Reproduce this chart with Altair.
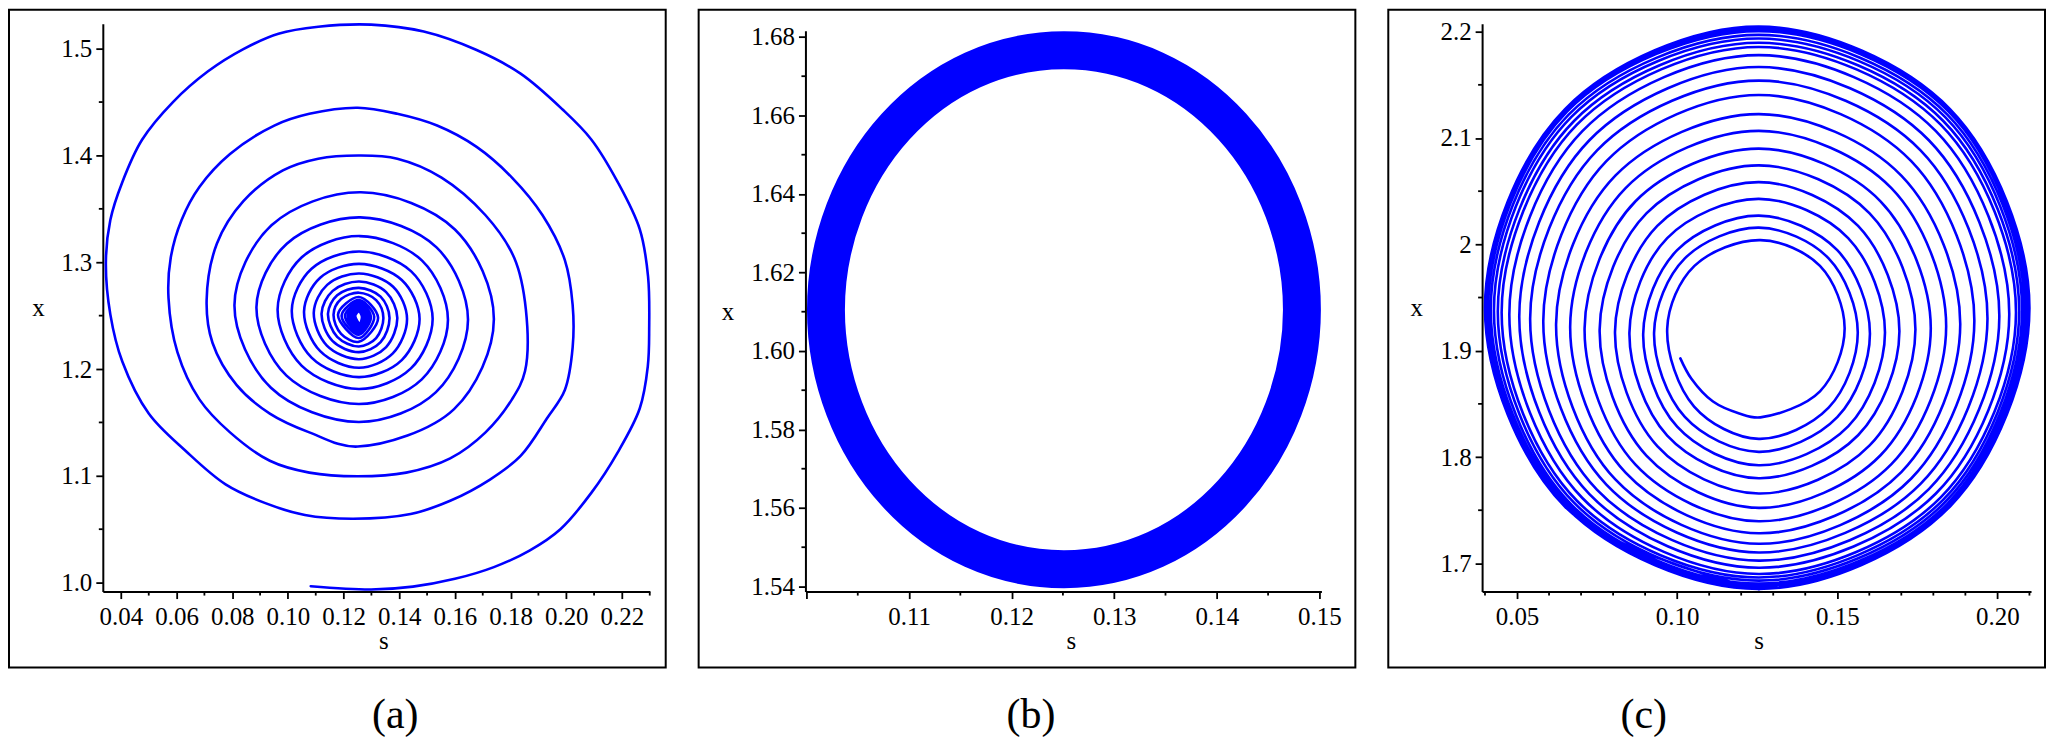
import altair as alt
import pandas as pd

FONT = "Liberation Serif"
BLUE = "#0000ff"

# ---------------- panel (a): trajectory spiralling into the focus (s, x) ----------------
a_pts = [
    (0.1082, 0.9966), (0.1299, 0.9935), (0.1449, 0.9962), (0.1600, 1.0035), (0.1740, 1.0145),
    (0.1868, 1.0300), (0.1979, 1.0500), (0.2090, 1.0840), (0.2185, 1.1220), (0.2264, 1.1630),
    (0.2293, 1.2025), (0.2298, 1.2380), (0.2294, 1.2865), (0.2264, 1.3310), (0.2185, 1.3750),
    (0.2090, 1.4150), (0.1987, 1.4430), (0.1836, 1.4766), (0.1678, 1.4987), (0.1488, 1.5160),
    (0.1299, 1.5225), (0.1109, 1.5205), (0.0966, 1.5140), (0.0840, 1.4996), (0.0713, 1.4788),
    (0.0587, 1.4500), (0.0476, 1.4147), (0.0405, 1.3750), (0.0362, 1.3396), (0.0346, 1.2998),
    (0.0362, 1.2512), (0.0405, 1.2070), (0.0500, 1.1583), (0.0634, 1.1230), (0.0776, 1.0920),
    (0.0919, 1.0744), (0.1061, 1.0633), (0.1235, 1.0598), (0.1441, 1.0642), (0.1583, 1.0766),
    (0.1726, 1.0965), (0.1836, 1.1186), (0.1931, 1.1539), (0.1995, 1.1804), (0.2023, 1.2202),
    (0.2023, 1.2600), (0.1995, 1.3020), (0.1915, 1.3440), (0.1805, 1.3793), (0.1678, 1.4080),
    (0.1536, 1.4280), (0.1393, 1.4390), (0.1251, 1.4447), (0.1077, 1.4390), (0.0951, 1.4280),
    (0.0792, 1.4014), (0.0682, 1.3705), (0.0618, 1.3396), (0.0579, 1.3042), (0.0571, 1.2666),
    (0.0603, 1.2158), (0.0682, 1.1716), (0.0792, 1.1407), (0.0935, 1.1141), (0.1077, 1.1030),
    (0.1251, 1.0996), (0.1425, 1.1030), (0.1583, 1.1163), (0.1710, 1.1407), (0.1805, 1.1716),
    (0.1852, 1.1981), (0.1855, 1.2556), (0.1813, 1.3042), (0.1710, 1.3440), (0.1552, 1.3793),
    (0.1393, 1.3970), (0.1259, 1.4000), (0.1109, 1.3970), (0.0982, 1.3860), (0.0840, 1.3572),
    (0.0745, 1.3175), (0.0708, 1.2644), (0.0729, 1.2246), (0.0816, 1.1849), (0.0935, 1.1583),
    (0.1077, 1.1407), (0.1251, 1.1274),
    (0.1597, 1.1624), (0.1740, 1.2467), (0.1600, 1.3307), (0.1262, 1.3655), (0.0941, 1.3346), (0.0808, 1.2600), (0.0939, 1.1825), (0.1255, 1.1504),
    (0.1532, 1.1784), (0.1647, 1.2460), (0.1534, 1.3139), (0.1260, 1.3420), (0.0996, 1.3174), (0.0887, 1.2580), (0.0995, 1.1938), (0.1255, 1.1672),
    (0.1481, 1.1903), (0.1575, 1.2460), (0.1482, 1.3015), (0.1258, 1.3245), (0.1049, 1.3044), (0.0963, 1.2560), (0.1049, 1.2032), (0.1255, 1.1813),
    (0.1442, 1.2006), (0.1520, 1.2470), (0.1443, 1.2915), (0.1257, 1.3100), (0.1085, 1.2939), (0.1014, 1.2550), (0.1085, 1.2107), (0.1255, 1.1924),
    (0.1409, 1.2084), (0.1473, 1.2470), (0.1409, 1.2834), (0.1256, 1.2985), (0.1116, 1.2855), (0.1058, 1.2540), (0.1116, 1.2167), (0.1255, 1.2012),
    (0.1377, 1.2146), (0.1428, 1.2470), (0.1378, 1.2770), (0.1256, 1.2895), (0.1141, 1.2788), (0.1093, 1.2530), (0.1140, 1.2220), (0.1255, 1.2092),
    (0.1353, 1.2206), (0.1393, 1.2480), (0.1353, 1.2720), (0.1256, 1.2820), (0.1161, 1.2732), (0.1121, 1.2520), (0.1160, 1.2264), (0.1255, 1.2158),
    (0.1333, 1.2252), (0.1365, 1.2480), (0.1333, 1.2678), (0.1255, 1.2760), (0.1177, 1.2690), (0.1144, 1.2520), (0.1177, 1.2302), (0.1255, 1.2211),
    (0.1317, 1.2290), (0.1343, 1.2480), (0.1317, 1.2646), (0.1255, 1.2715), (0.1191, 1.2655), (0.1164, 1.2510), (0.1191, 1.2330), (0.1255, 1.2255),
    (0.1324, 1.2480), (0.1255, 1.2675), (0.1180, 1.2510), (0.1255, 1.2290),
    (0.1310, 1.2490), (0.1255, 1.2645), (0.1193, 1.2500), (0.1255, 1.2321),
    (0.1298, 1.2490), (0.1255, 1.2620), (0.1205, 1.2500), (0.1255, 1.2345),
    (0.1289, 1.2490), (0.1255, 1.2600), (0.1215, 1.2500), (0.1255, 1.2365),
    (0.1281, 1.2490), (0.1255, 1.2585), (0.1224, 1.2500), (0.1255, 1.2380),
    (0.1275, 1.2490), (0.1255, 1.2570), (0.1231, 1.2500), (0.1255, 1.2395),
    (0.1270, 1.2490), (0.1255, 1.2555), (0.1237, 1.2500), (0.1255, 1.2410),
    (0.1266, 1.2490), (0.1255, 1.2540), (0.1242, 1.2500), (0.1255, 1.2425),
]
a_s_ticks = [0.04, 0.06, 0.08, 0.10, 0.12, 0.14, 0.16, 0.18, 0.20, 0.22]
a_s_minor = [0.05, 0.07, 0.09, 0.11, 0.13, 0.15, 0.17, 0.19, 0.21, 0.23]
a_x_ticks = [1.0, 1.1, 1.2, 1.3, 1.4, 1.5]
a_x_minor = [1.05, 1.15, 1.25, 1.35, 1.45]

# ---------------- panel (b): limit-cycle band (centre line of the band) ----------------
b_pts = [(0.1483, 1.6105), (0.1465, 1.6358), (0.1415, 1.6572), (0.1340, 1.6716),
         (0.1251, 1.6766), (0.1162, 1.6716), (0.1087, 1.6572), (0.1037, 1.6358),
         (0.1019, 1.6105), (0.1037, 1.5852), (0.1087, 1.5638), (0.1162, 1.5494),
         (0.1251, 1.5444), (0.1340, 1.5494), (0.1415, 1.5638), (0.1465, 1.5852)]
b_s_ticks = [0.10, 0.11, 0.12, 0.13, 0.14, 0.15]
b_s_minor = [0.105, 0.115, 0.125, 0.135, 0.145]
b_x_ticks = [1.54, 1.56, 1.58, 1.60, 1.62, 1.64, 1.66, 1.68]
b_x_minor = [1.55, 1.57, 1.59, 1.61, 1.63, 1.65, 1.67]

# ---------------- panel (c): trajectory spiralling out onto the limit cycle ----------------
c_pts = [
    (0.1010, 1.8928), (0.1044, 1.8739), (0.1112, 1.8522), (0.1194, 1.8410),
    (0.1260, 1.8373), (0.1446, 1.8618), (0.1523, 1.9210), (0.1446, 1.9797), (0.1260, 2.0040), (0.1054, 1.9797), (0.0969, 1.9210), (0.1053, 1.8475),
    (0.1255, 1.8171), (0.1473, 1.8464), (0.1564, 1.9170), (0.1473, 1.9868), (0.1255, 2.0157), (0.1024, 1.9868), (0.0928, 1.9170), (0.1024, 1.8377),
    (0.1255, 1.8049), (0.1500, 1.8375), (0.1602, 1.9160), (0.1500, 1.9945), (0.1255, 2.0270), (0.1000, 1.9945), (0.0894, 1.9160), (0.1000, 1.8285),
    (0.1255, 1.7923), (0.1534, 1.8288), (0.1649, 1.9170), (0.1534, 2.0059), (0.1255, 2.0428), (0.0969, 2.0059), (0.0851, 1.9170), (0.0969, 1.8202),
    (0.1255, 1.7801), (0.1565, 1.8205), (0.1694, 1.9180), (0.1565, 2.0173), (0.1255, 2.0585), (0.0938, 2.0173), (0.0806, 1.9180), (0.0938, 1.8103),
    (0.1255, 1.7657), (0.1601, 1.8109), (0.1744, 1.9200), (0.1601, 2.0291), (0.1255, 2.0743), (0.0904, 2.0291), (0.0758, 1.9200), (0.0904, 1.8014),
    (0.1255, 1.7522), (0.1635, 1.8017), (0.1792, 1.9210), (0.1635, 2.0405), (0.1255, 2.0900), (0.0870, 2.0405), (0.0711, 1.9210), (0.0870, 1.7928),
    (0.1255, 1.7396), (0.1669, 1.7933), (0.1840, 1.9230), (0.1669, 2.0529), (0.1255, 2.1067), (0.0839, 2.0529), (0.0666, 1.9230), (0.0839, 1.7853),
    (0.1255, 1.7283), (0.1700, 1.7859), (0.1884, 1.9250), (0.1700, 2.0646), (0.1255, 2.1225), (0.0807, 2.0646), (0.0622, 1.9250), (0.0807, 1.7789),
    (0.1255, 1.7184), (0.1731, 1.7798), (0.1928, 1.9280), (0.1731, 2.0782), (0.1255, 2.1405), (0.0779, 2.0782), (0.0582, 1.9280), (0.0779, 1.7741),
    (0.1255, 1.7103), (0.1760, 1.7747), (0.1969, 1.9300), (0.1760, 2.0884), (0.1255, 2.1540), (0.0750, 2.0884), (0.0541, 1.9300), (0.0750, 1.7692),
    (0.1255, 1.7026), (0.1786, 1.7698), (0.2006, 1.9320), (0.1786, 2.0979), (0.1255, 2.1667), (0.0726, 2.0979), (0.0507, 1.9320), (0.0726, 1.7651),
    (0.1255, 1.6959), (0.1808, 1.7657), (0.2037, 1.9340), (0.1808, 2.1064), (0.1255, 2.1779), (0.0704, 2.1064), (0.0476, 1.9340), (0.0704, 1.7615),
    (0.1255, 1.6900), (0.1823, 1.7621), (0.2058, 1.9360), (0.1823, 2.1125), (0.1255, 2.1856), (0.0687, 2.1125), (0.0452, 1.9360), (0.0687, 1.7589),
    (0.1255, 1.6868), (0.1831, 1.7599), (0.2068, 1.9370), (0.1831, 2.1160), (0.1255, 2.1895), (0.0678, 2.1160), (0.0440, 1.9370), (0.0678, 1.7571),
    (0.1255, 1.6838), (0.1837, 1.7577), (0.2077, 1.9380), (0.1837, 2.1196), (0.1255, 2.1935), (0.0669, 2.1196), (0.0428, 1.9380), (0.0669, 1.7555),
    (0.1255, 1.6810), (0.1843, 1.7558), (0.2085, 1.9385), (0.1843, 2.1222), (0.1255, 2.1970), (0.0662, 2.1222), (0.0418, 1.9385), (0.0662, 1.7544),
    (0.1255, 1.6788), (0.1848, 1.7545), (0.2092, 1.9390), (0.1848, 2.1248), (0.1255, 2.2005), (0.0656, 2.1248), (0.0410, 1.9390), (0.0656, 1.7536),
    (0.1255, 1.6770), (0.1851, 1.7538), (0.2097, 1.9395), (0.1851, 2.1265), (0.1255, 2.2030), (0.0652, 2.1265), (0.0404, 1.9395), (0.0652, 1.7532),
    (0.1255, 1.6760), (0.1852, 1.7535), (0.2100, 1.9400), (0.1852, 2.1272), (0.1255, 2.2048), (0.0650, 2.1272), (0.0400, 1.9400), (0.0650, 1.7532),
    (0.1255, 1.6756),
]
c_s_ticks = [0.05, 0.10, 0.15, 0.20]
c_s_minor = [0.04, 0.06, 0.07, 0.08, 0.09, 0.11, 0.12, 0.13, 0.14, 0.16, 0.17, 0.18, 0.19, 0.21]
c_x_ticks = [1.7, 1.8, 1.9, 2.0, 2.1, 2.2]
c_x_minor = [1.75, 1.85, 1.95, 2.05, 2.15]


def panel(pts, w, h, yr, sdom, xdom, s_ticks, s_expr, x_ticks, x_expr, s_minor, x_minor,
          frame, label, lab_x, lab_y, ytitle_x, stitle_x, interp, stroke_w):
    sx = alt.Scale(domain=sdom, nice=False, zero=False)
    sy = alt.Scale(domain=xdom, range=[yr[1], yr[0]], nice=False, zero=False)
    ax_s = alt.Axis(values=s_ticks, labelExpr=s_expr, title="s",
                    titleX=stitle_x, titleY=57, titleAlign="center", titleBaseline="alphabetic")
    ax_x = alt.Axis(values=x_ticks, labelExpr=x_expr, title="x", titleAngle=0,
                    titleX=ytitle_x, titleY=(yr[0] + yr[1]) / 2, titleAlign="center",
                    titleBaseline="middle")
    df = pd.DataFrame({"i": list(range(len(pts))),
                       "s": [p[0] for p in pts], "x": [p[1] for p in pts]})
    line = alt.Chart(df).mark_line(
        color=BLUE, strokeWidth=stroke_w, interpolate=interp,
        strokeJoin="round", strokeCap="round"
    ).encode(
        x=alt.X("s:Q", scale=sx, axis=ax_s),
        y=alt.Y("x:Q", scale=sy, axis=ax_x),
        order=alt.Order("i:Q"),
    )
    mx = alt.Chart(pd.DataFrame({"s": s_minor})).mark_rule(color="black", strokeWidth=1.8).encode(
        x=alt.X("s:Q", scale=sx, axis=ax_s), y=alt.value(h), y2=alt.value(h + 4))
    my = alt.Chart(pd.DataFrame({"x": x_minor})).mark_rule(color="black", strokeWidth=1.8).encode(
        y=alt.Y("x:Q", scale=sy, axis=ax_x), x=alt.value(0), x2=alt.value(-4))
    fr = alt.Chart(pd.DataFrame({"k": [0]})).mark_rect(
        filled=False, stroke="black", strokeWidth=2).encode(
        x=alt.value(frame[0]), x2=alt.value(frame[1]),
        y=alt.value(frame[2]), y2=alt.value(frame[3]))
    txt = alt.Chart(pd.DataFrame({"t": [label]})).mark_text(
        font=FONT, fontSize=42, align="center", baseline="alphabetic", color="black").encode(
        x=alt.value(lab_x), y=alt.value(lab_y), text="t:N")
    return alt.layer(fr, line, mx, my, txt).properties(width=w, height=h)


fmt2 = "format(datum.value, '.2f')"
fmt1 = "format(datum.value, '.1f')"

pa = panel(a_pts, 548, 569, (0, 569), [0.0335, 0.2300], [0.9916, 1.5234],
           a_s_ticks, fmt2, a_x_ticks, fmt1, a_s_minor, a_x_minor,
           (-94, 564, -14, 645), "(a)", 293, 706, -65, 281, "catmull-rom", 2.6)
pb = panel(b_pts, 517, 569, (7, 569), [0.0999, 0.1502], [1.5387, 1.6816],
           b_s_ticks, "datum.value < 0.105 ? '' : format(datum.value, '.2f')",
           b_x_ticks, fmt2, b_s_minor, b_x_minor,
           (-107, 551, -14, 645), "(b)", 226, 706, -78, 266, "cardinal-closed", 38)
pc = panel(c_pts, 550, 569, (0, 569), [0.0391, 0.2105], [1.6735, 2.2075],
           c_s_ticks, fmt2, c_x_ticks,
           "abs(datum.value - 2) < 0.001 ? '2' : format(datum.value, '.1f')",
           c_s_minor, c_x_minor,
           (-94, 564, -14, 645), "(c)", 162, 706, -66, 277, "catmull-rom", 2.6)

chart = alt.hconcat(pa, pb, pc, spacing=31).properties(padding=0).configure_view(
    strokeWidth=0
).configure_axis(
    domainColor="black", domainWidth=2, tickColor="black", tickWidth=1.8, tickSize=7,
    labelFont=FONT, labelFontSize=25, labelColor="black", labelFlush=False,
    labelOverlap=False, titleFont=FONT, titleFontSize=25, titleFontWeight="normal",
    titleColor="black", grid=False
).configure_axisX(
    labelBaseline="alphabetic", labelPadding=26
).configure_axisY(
    labelPadding=4
)

chart.save("out.html", embed_options={"renderer": "svg", "actions": False})
